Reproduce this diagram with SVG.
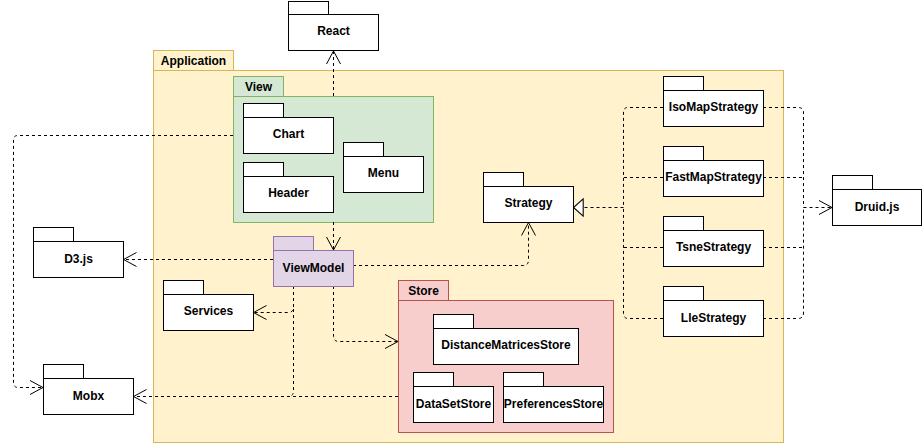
<svg xmlns="http://www.w3.org/2000/svg" width="923" height="443" viewBox="0 0 923 443">
<style>
text{font-family:"Liberation Sans",Arial,sans-serif;font-size:12px;font-weight:bold;fill:#000;text-anchor:middle}
.pk{fill:#fff;stroke:#000;stroke-width:1}
.app{fill:#fff2cc;stroke:#d6b656}
.view{fill:#d5e8d4;stroke:#82b366}
.vm{fill:#e1d5e7;stroke:#9673a6}
.store{fill:#f8cecc;stroke:#b85450}
.c path{fill:none;stroke:#000;stroke-width:1;stroke-dasharray:3 3}
.dep{marker-end:url(#open)}
.inh{marker-end:url(#tri)}
</style>
<defs>
<marker id="open" markerUnits="userSpaceOnUse" markerWidth="16" markerHeight="16" viewBox="-14 -8 16 16" refX="0" refY="0" orient="auto">
<path d="M-13,-7 L0,0 L-13,7" fill="none" stroke="#000" stroke-width="1"/>
</marker>
<marker id="tri" markerUnits="userSpaceOnUse" markerWidth="14" markerHeight="20" viewBox="-11 -9 13 18" refX="0" refY="0" orient="auto">
<path d="M-9,-8 L0,0 L-9,8 Z" fill="#fff" stroke="#000" stroke-width="1"/>
</marker>
</defs>

<g id="Application">
<rect class="app" x="153.5" y="50.5" width="80" height="20"/>
<rect class="app" x="153.5" y="70.5" width="630" height="372"/>
<text x="193.5" y="65">Application</text>
</g>

<g id="View">
<rect class="view" x="233.5" y="76.5" width="50" height="20"/>
<rect class="view" x="233.5" y="96.5" width="200" height="126"/>
<text x="258.5" y="91">View</text>
</g>

<g id="Store">
<rect class="store" x="398.5" y="280.5" width="50" height="20"/>
<rect class="store" x="398.5" y="300.5" width="215" height="132"/>
<text x="423.5" y="295">Store</text>
</g>

<g class="c" id="connectors">
<path class="dep" d="M333.5,96 L333.5,51"/>
<path class="dep" d="M333.5,222 L333.5,250"/>
<path class="dep" d="M233,135.5 L18,135.5 Q13.5,135.5 13.5,140 L13.5,382 Q13.5,387.5 18,387.5 L43,387.5"/>
<path class="dep" d="M273,259.5 L123.5,259.5"/>
<path class="dep" d="M293.5,286 L293.5,307 Q293.5,312.5 288,312.5 L253.5,312.5"/>
<path d="M293.5,309 L293.5,391 Q293.5,396.5 288,396.5"/>
<path class="dep" d="M398,396.5 L133.5,396.5"/>
<path class="dep" d="M333.5,286 L333.5,336 Q333.5,341.5 339,341.5 L398,341.5"/>
<path class="dep" d="M353,265.5 L523,265.5 Q528.5,265.5 528.5,260 L528.5,222.5"/>
<path class="inh" d="M623.5,207.5 L573.5,207.5"/>
<path d="M663,107.5 L628,107.5 Q623.5,107.5 623.5,112 L623.5,207.5"/>
<path d="M663,318.5 L628,318.5 Q623.5,318.5 623.5,313 L623.5,207.5"/>
<path d="M663,177.5 L624,177.5"/>
<path d="M663,247.5 L624,247.5"/>
<path class="dep" d="M803.5,207.5 L832,207.5"/>
<path d="M763,107.5 L798,107.5 Q803.5,107.5 803.5,112 L803.5,207.5"/>
<path d="M763,318.5 L798,318.5 Q803.5,318.5 803.5,313 L803.5,207.5"/>
<path d="M763,177.5 L803,177.5"/>
<path d="M763,247.5 L803,247.5"/>
</g>

<g id="React">
<rect class="pk" x="288.5" y="1.5" width="40" height="13"/>
<rect class="pk" x="288.5" y="14.5" width="90" height="36"/>
<text x="333.5" y="35">React</text>
</g>

<g id="Chart">
<rect class="pk" x="243.5" y="103.5" width="40" height="14"/>
<rect class="pk" x="243.5" y="117.5" width="90" height="36"/>
<text x="288.5" y="138">Chart</text>
</g>

<g id="Header">
<rect class="pk" x="243.5" y="162.5" width="40" height="14"/>
<rect class="pk" x="243.5" y="176.5" width="90" height="36"/>
<text x="288.5" y="197">Header</text>
</g>

<g id="Menu">
<rect class="pk" x="343.5" y="142.5" width="40" height="14"/>
<rect class="pk" x="343.5" y="156.5" width="80" height="36"/>
<text x="383.5" y="177">Menu</text>
</g>

<g id="ViewModel">
<rect class="vm" x="273.5" y="236.5" width="40" height="14"/>
<rect class="vm" x="273.5" y="250.5" width="80" height="36"/>
<text x="313.5" y="272">ViewModel</text>
</g>

<g id="D3js">
<rect class="pk" x="33.5" y="227.5" width="40" height="14"/>
<rect class="pk" x="33.5" y="241.5" width="90" height="36"/>
<text x="78.5" y="263">D3.js</text>
</g>

<g id="Mobx">
<rect class="pk" x="43.5" y="364.5" width="40" height="14"/>
<rect class="pk" x="43.5" y="378.5" width="90" height="36"/>
<text x="88.5" y="400">Mobx</text>
</g>

<g id="Services">
<rect class="pk" x="163.5" y="280.5" width="40" height="14"/>
<rect class="pk" x="163.5" y="294.5" width="90" height="36"/>
<text x="208.5" y="315">Services</text>
</g>

<g id="DistanceMatricesStore">
<rect class="pk" x="433.5" y="314.5" width="40" height="14"/>
<rect class="pk" x="433.5" y="328.5" width="145" height="36"/>
<text x="506" y="349">DistanceMatricesStore</text>
</g>

<g id="DataSetStore">
<rect class="pk" x="413.5" y="372.5" width="40" height="14"/>
<rect class="pk" x="413.5" y="386.5" width="80" height="36"/>
<text x="453.5" y="408">DataSetStore</text>
</g>

<g id="PreferencesStore">
<rect class="pk" x="503.5" y="372.5" width="40" height="14"/>
<rect class="pk" x="503.5" y="386.5" width="100" height="36"/>
<text x="553.5" y="408">PreferencesStore</text>
</g>

<g id="Strategy">
<rect class="pk" x="483.5" y="172.5" width="40" height="14"/>
<rect class="pk" x="483.5" y="186.5" width="90" height="36"/>
<text x="528.5" y="207">Strategy</text>
</g>

<g id="IsoMapStrategy">
<rect class="pk" x="663.5" y="76.5" width="40" height="14"/>
<rect class="pk" x="663.5" y="90.5" width="100" height="36"/>
<text x="713.5" y="111">IsoMapStrategy</text>
</g>

<g id="FastMapStrategy">
<rect class="pk" x="663.5" y="146.5" width="40" height="14"/>
<rect class="pk" x="663.5" y="160.5" width="100" height="36"/>
<text x="713.5" y="181">FastMapStrategy</text>
</g>

<g id="TsneStrategy">
<rect class="pk" x="663.5" y="216.5" width="40" height="14"/>
<rect class="pk" x="663.5" y="230.5" width="100" height="36"/>
<text x="713.5" y="251">TsneStrategy</text>
</g>

<g id="LleStrategy">
<rect class="pk" x="663.5" y="286.5" width="40" height="14"/>
<rect class="pk" x="663.5" y="300.5" width="100" height="36"/>
<text x="713.5" y="322">LleStrategy</text>
</g>

<g id="Druidjs">
<rect class="pk" x="832.5" y="175.5" width="40" height="14"/>
<rect class="pk" x="832.5" y="189.5" width="89" height="36"/>
<text x="877" y="211">Druid.js</text>
</g>
</svg>
